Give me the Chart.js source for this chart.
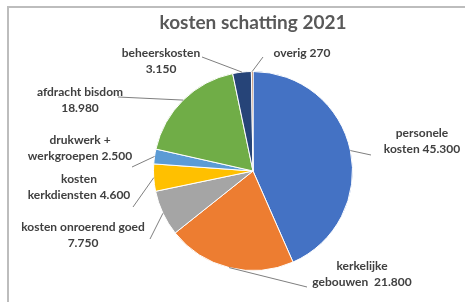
<!DOCTYPE html>
<html>
<head>
<meta charset="utf-8">
<script src="https://cdn.jsdelivr.net/npm/chart.js@4/dist/chart.umd.min.js"></script>
<style>body{margin:0;background:#fff}</style>
</head>
<body>
<canvas id="myChart" width="465" height="302"></canvas>
<script>
var title = 'kosten schatting 2021';
var categories = ['personele\nkosten', 'kerkelijke\ngebouwen ', 'kosten onroerend goed\n', 'kosten\nkerkdiensten',
  'drukwerk +\nwerkgroepen', 'afdracht bisdom\n', 'beheerskosten\n', 'overig'];
var values = [45300, 21800, 7750, 4600, 2500, 18980, 3150, 270];
var colors = ['#4472C4', '#ED7D31', '#A5A5A5', '#FFC000', '#5B9BD5', '#70AD47', '#264478', '#9E480E'];

// label placement like excel did it: text center (first line) + end of leader line
var labelPos = [
  {x: 422, y: 133, lx: 371, ly: 155},
  {x: 362, y: 266, lx: 307, ly: 287},
  {x: 83, y: 227, lx: 150, ly: 239},
  {x: 79, y: 179, lx: 133, ly: 207},
  {x: 80, y: 140, lx: 132, ly: 167},
  {x: 80, y: 92, lx: 118, ly: 97},
  {x: 161, y: 53, lx: 202, ly: 57},
  {x: 302, y: 53, lx: 263, ly: 57}
];

function fmt(v) {
  return String(v).replace(/\B(?=(\d{3})+(?!\d))/g, '.');
}

var excelLabels = {
  id: 'excelLabels',
  beforeDraw: function(chart) {
    var c = chart.ctx;
    c.save();
    c.fillStyle = '#fff';
    c.fillRect(0, 0, chart.width, chart.height);
    // chart frame, only top and left are in the screenshot
    c.strokeStyle = '#BDBDBD';
    c.lineWidth = 2;
    c.beginPath();
    c.moveTo(8, chart.height);
    c.lineTo(8, 7);
    c.lineTo(chart.width, 7);
    c.stroke();
    c.fillStyle = '#595959';
    c.font = 'bold 19px Lato';
    c.textAlign = 'center';
    c.textBaseline = 'middle';
    c.fillText(title, 253, 23);
    c.restore();
  },
  afterDatasetsDraw: function(chart) {
    var c = chart.ctx;
    var arcs = chart.getDatasetMeta(0).data;
    c.save();
    arcs.forEach(function(arc, i) {
      var p = labelPos[i];
      var mid = (arc.startAngle + arc.endAngle) / 2;
      var px = arc.x + Math.cos(mid) * arc.outerRadius;
      var py = arc.y + Math.sin(mid) * arc.outerRadius;
      c.strokeStyle = '#7F7F7F';
      c.lineWidth = 1;
      c.beginPath();
      c.moveTo(px, py);
      c.lineTo(p.lx, p.ly);
      c.stroke();

      var lines = (categories[i] + ' ' + fmt(values[i])).split('\n');
      c.fillStyle = '#404040';
      c.font = 'bold 12px Lato';
      c.textAlign = 'center';
      c.textBaseline = 'middle';
      lines.forEach(function(t, k) {
        c.fillText(t.trim(), p.x, p.y + k * 16);
      });
    });
    c.restore();
  }
};

var ctx = document.getElementById('myChart');
var myChart = new Chart(ctx, {
  type: 'pie',
  data: {
    labels: categories,
    datasets: [{
      data: values,
      backgroundColor: colors,
      borderColor: '#fff',
      borderWidth: 1
    }]
  },
  options: {
    responsive: false,
    animation: false,
    layout: {
      padding: {left: 153, right: 112, top: 71, bottom: 31}
    },
    plugins: {
      legend: {display: false},
      tooltip: {enabled: false},
      title: {display: false}
    }
  },
  plugins: [excelLabels]
});
</script>
</body>
</html>
